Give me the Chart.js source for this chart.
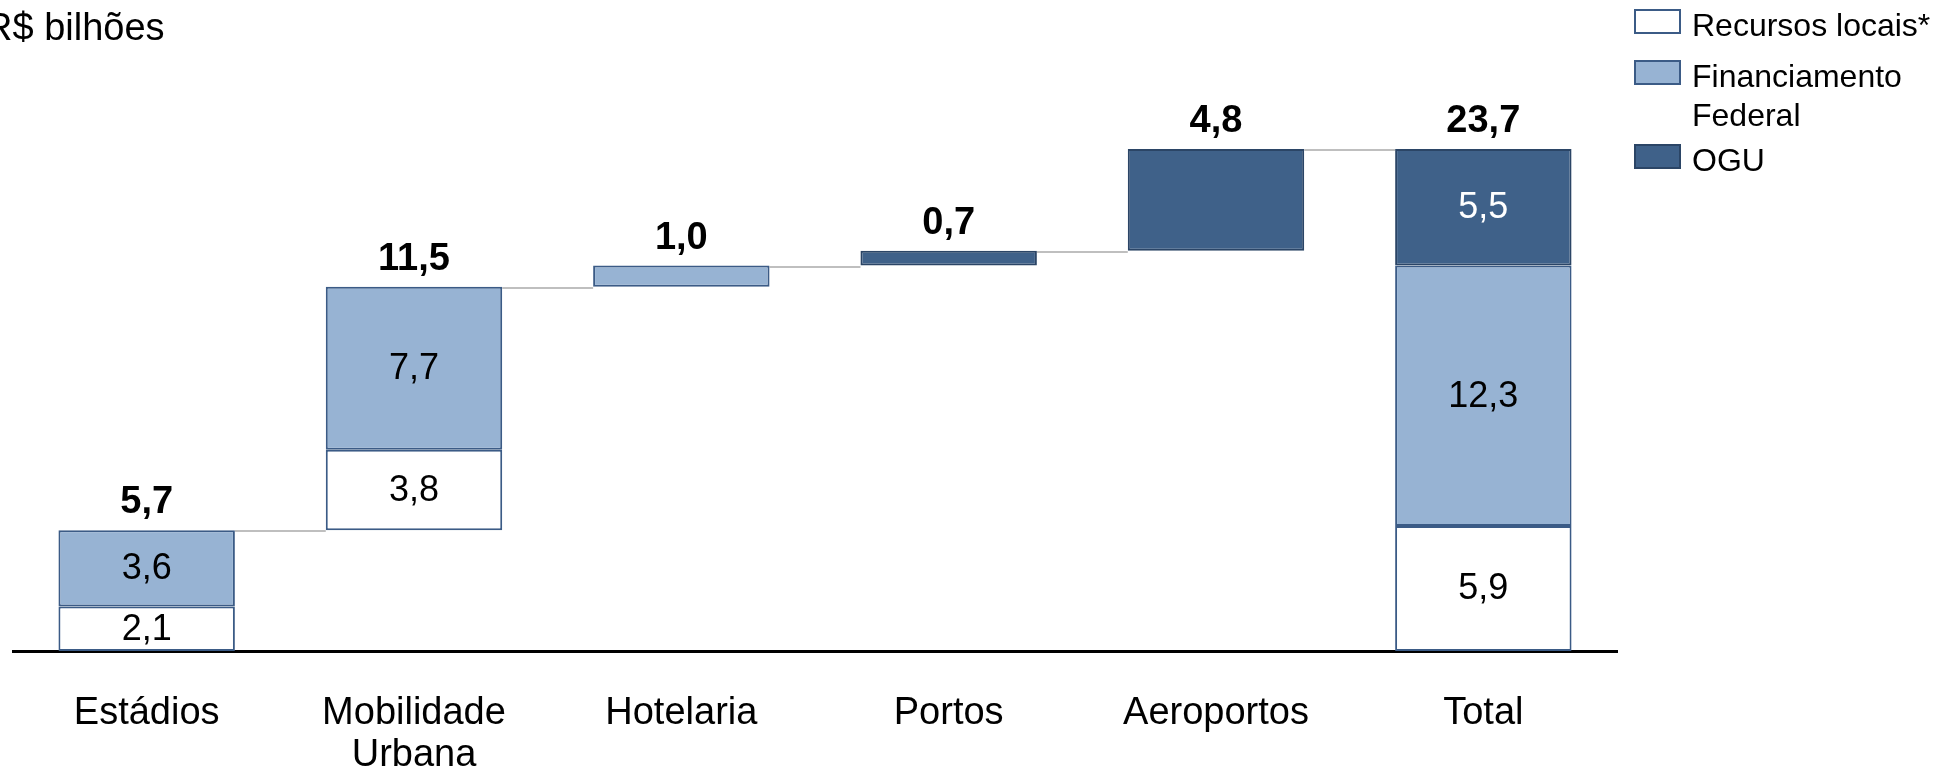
<!DOCTYPE html>
<html>
<head>
<meta charset="utf-8">
<title>R$ bilhões</title>
<script src="https://cdn.jsdelivr.net/npm/chart.js@4/dist/chart.umd.min.js"></script>
<style>
  html, body { margin: 0; padding: 0; background: #fff; }
  #wrap { width: 1950px; height: 772px; }
</style>
</head>
<body>
<div id="wrap"><canvas id="myChart" width="1950" height="772"></canvas></div>
<script>
// Data
const categories = ['Estádios', ['Mobilidade', 'Urbana'], 'Hotelaria', 'Portos', 'Aeroportos', 'Total'];
const recursosLocais = [2.1, 3.8, null, null, null, 5.9];
const financiamentoFederal = [3.6, 7.7, 1.0, null, null, 12.3];
const ogu = [null, null, null, 0.7, 4.8, 5.5];
const seriesNames = ['Recursos locais*', ['Financiamento', 'Federal'], 'OGU'];
const unitLabel = 'R$ bilhões';

const FONT = "'Liberation Sans', Arial, sans-serif";
const lightBlue = '#97B3D3';
const darkBlue = '#3F6189';
const edge = '#3B5B86';
const darkEdge = '#2B4566';

// totals of each bar and floating base (waterfall)
const series = [recursosLocais, financiamentoFederal, ogu];
const totals = categories.map((c, i) => series.reduce((s, arr) => s + (arr[i] || 0), 0));
const base = [];
let running = 0;
categories.forEach((c, i) => {
  if (i === categories.length - 1) { base.push(0); return; }
  base.push(+running.toFixed(1));
  running += totals[i];
});

function fmt(v) {
  return v.toFixed(1).replace('.', ',');
}

// connectors, value labels, legend, unit label
const waterfallPlugin = {
  id: 'waterfall',
  beforeDatasetsDraw(chart) {
    const ctx = chart.ctx;
    const y = chart.scales.y;
    const meta = chart.getDatasetMeta(1);
    ctx.save();
    ctx.strokeStyle = '#BFBFBF';
    ctx.lineWidth = 2;
    for (let i = 0; i < categories.length - 1; i++) {
      const a = meta.data[i], b = meta.data[i + 1];
      const py = Math.round(y.getPixelForValue(base[i] + totals[i])) + 1;
      ctx.beginPath();
      ctx.moveTo(a.x + a.width / 2, py);
      ctx.lineTo(b.x - b.width / 2, py);
      ctx.stroke();
    }
    ctx.restore();
  },
  afterDatasetsDraw(chart) {
    const ctx = chart.ctx;
    const y = chart.scales.y;
    const x = chart.scales.x;
    ctx.save();
    ctx.textAlign = 'center';
    // bold totals above bars
    ctx.font = 'bold 38px ' + FONT;
    ctx.fillStyle = '#000';
    ctx.textBaseline = 'alphabetic';
    categories.forEach((c, i) => {
      const top = y.getPixelForValue(base[i] + totals[i]);
      ctx.fillText(fmt(totals[i]), x.getPixelForValue(i), top - 17);
    });
    // segment labels for stacked bars
    ctx.font = '36px ' + FONT;
    ctx.textBaseline = 'middle';
    categories.forEach((c, i) => {
      const n = series.filter(arr => arr[i] != null).length;
      if (n < 2) return;
      series.forEach((arr, s) => {
        if (arr[i] == null) return;
        const el = chart.getDatasetMeta(s + 1).data[i];
        ctx.fillStyle = s === 2 ? '#fff' : '#000';
        ctx.fillText(fmt(arr[i]), el.x, (el.y + el.base) / 2 + 1);
      });
    });
    ctx.restore();
  },
  afterDraw(chart) {
    const ctx = chart.ctx;
    ctx.save();
    ctx.fillStyle = '#000';
    ctx.textAlign = 'left';
    ctx.textBaseline = 'alphabetic';
    ctx.font = '38px ' + FONT;
    ctx.fillText(unitLabel, -15, 40);
    // legend
    const fills = ['#FFFFFF', lightBlue, darkBlue];
    const borders = [edge, edge, darkEdge];
    const boxTops = [10, 61, 145];
    ctx.font = '32px ' + FONT;
    seriesNames.forEach((name, s) => {
      ctx.fillStyle = fills[s];
      ctx.fillRect(1635, boxTops[s], 45, 23);
      ctx.strokeStyle = borders[s];
      ctx.lineWidth = 2;
      ctx.strokeRect(1635, boxTops[s], 45, 23);
      ctx.fillStyle = '#000';
      const lines = Array.isArray(name) ? name : [name];
      lines.forEach((ln, k) => ctx.fillText(ln, 1692, boxTops[s] + 26 + k * 39));
    });
    ctx.restore();
  }
};

const ctx = document.getElementById('myChart').getContext('2d');

const barStyle = {
  borderWidth: 2,
  borderSkipped: false,
  barPercentage: 0.66,
  categoryPercentage: 1.0
};

const chart = new Chart(ctx, {
  type: 'bar',
  data: {
    labels: categories,
    datasets: [
      Object.assign({ label: 'base', data: base, backgroundColor: 'rgba(0,0,0,0)', borderColor: 'rgba(0,0,0,0)', borderWidth: 0 }, { borderSkipped: false, barPercentage: 0.66, categoryPercentage: 1.0 }),
      Object.assign({ label: seriesNames[0], data: recursosLocais, backgroundColor: '#FFFFFF', borderColor: edge }, barStyle),
      Object.assign({ label: seriesNames[1].join(' '), data: financiamentoFederal, backgroundColor: lightBlue, borderColor: edge }, barStyle),
      Object.assign({ label: seriesNames[2], data: ogu, backgroundColor: darkBlue, borderColor: darkEdge }, barStyle)
    ]
  },
  options: {
    responsive: false,
    animation: false,
    layout: { padding: { left: 13, right: 333, top: 58, bottom: 0 } },
    plugins: {
      legend: { display: false },
      tooltip: { enabled: false }
    },
    scales: {
      x: {
        stacked: true,
        grid: { display: false, drawTicks: false },
        border: { display: true, color: '#000', width: 3 },
        ticks: {
          color: '#000',
          padding: 41,
          font: { family: FONT, size: 38, lineHeight: 1.12 },
          maxRotation: 0,
          autoSkip: false
        },
        afterFit(scale) { scale.height = 121; }
      },
      y: {
        stacked: true,
        display: false,
        min: 0,
        max: 28
      }
    }
  },
  plugins: [waterfallPlugin]
});
</script>
</body>
</html>
